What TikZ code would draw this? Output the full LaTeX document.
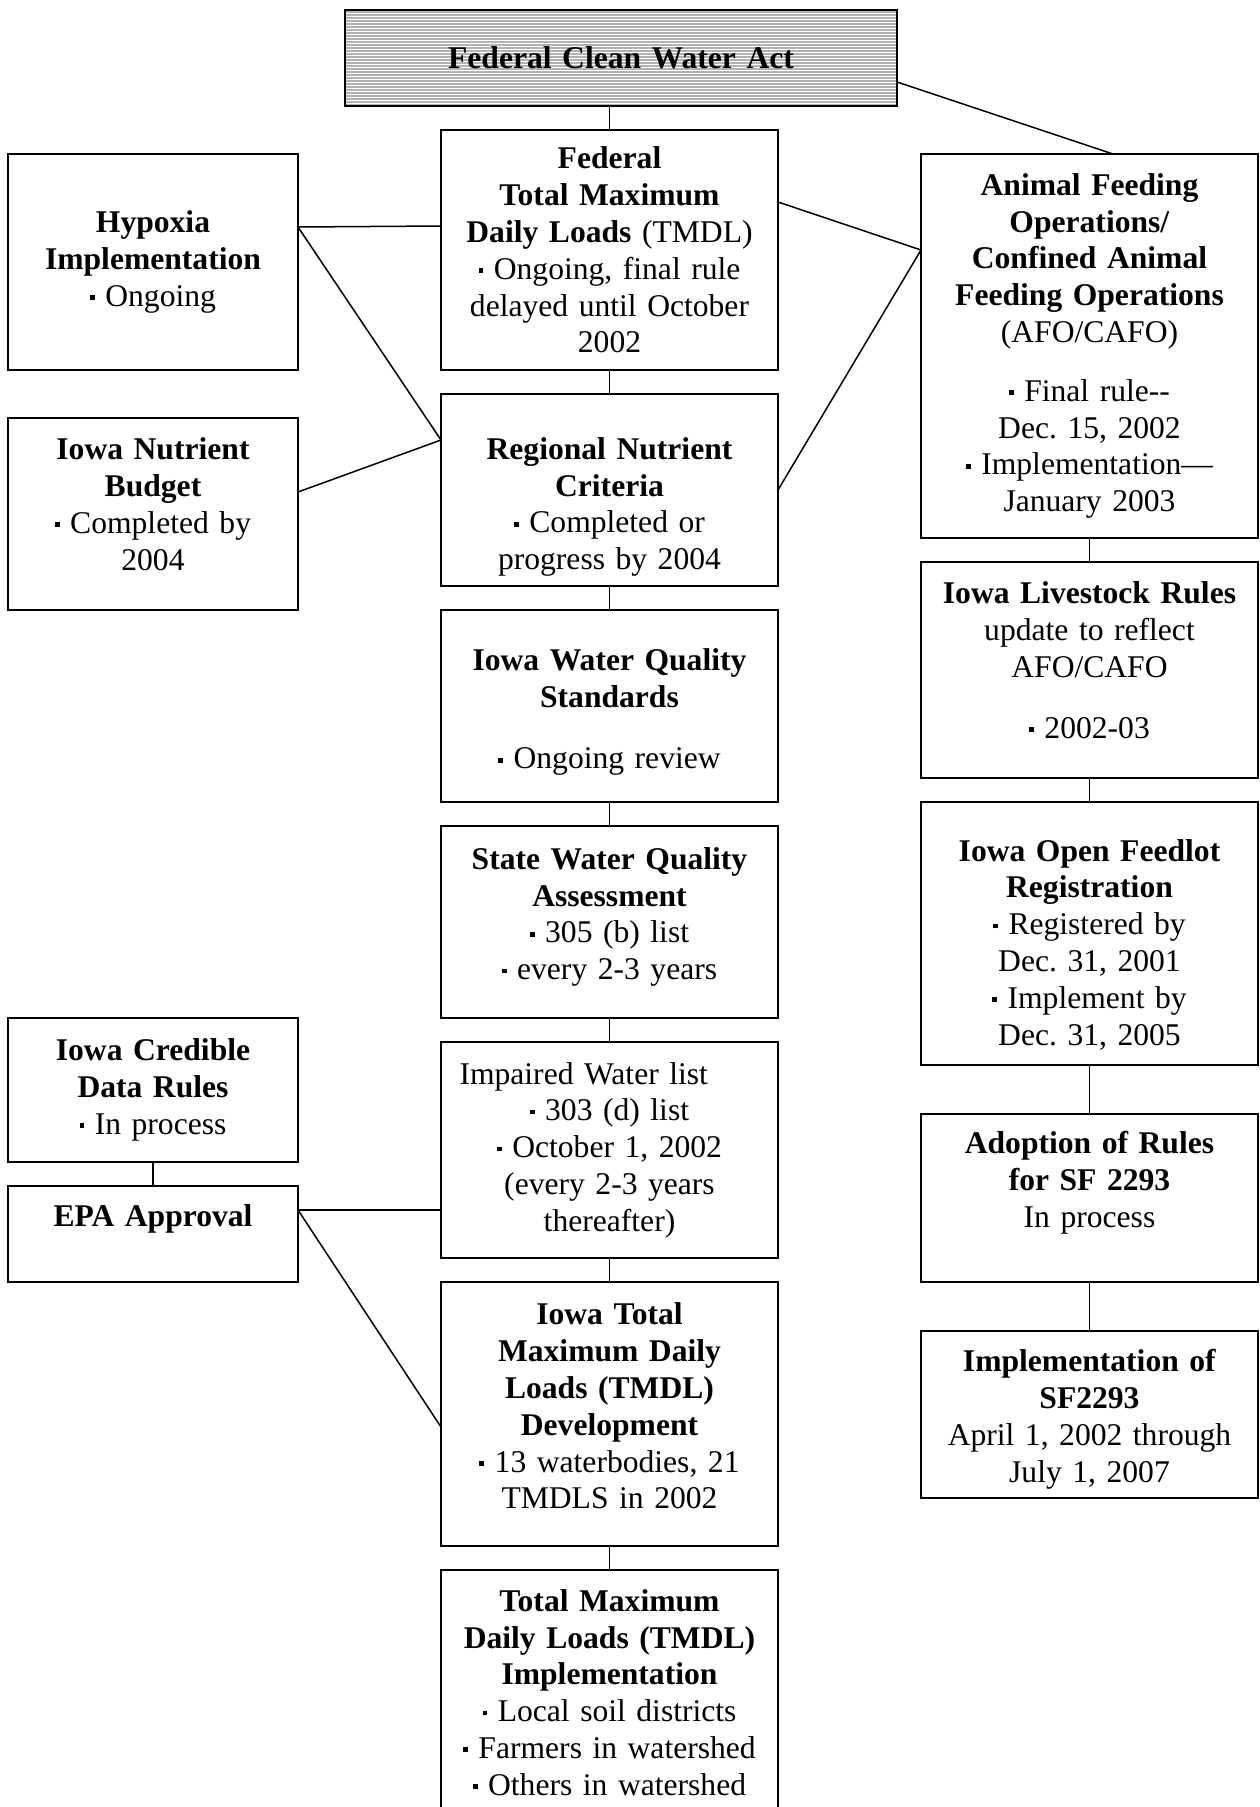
\documentclass[tikz,border=0pt]{standalone}
\usepackage{fontspec}
\setmainfont{Liberation Serif}
\usetikzlibrary{calc}

\frenchspacing
\newcommand{\bdot}{\raisebox{0.2em}{\rule{0.15em}{0.15em}}\ }
\newcommand{\topgap}[1]{\rule{0pt}{#1}}
\newcommand{\botgap}[1]{\rule[-#1]{0pt}{0pt}}

\begin{document}
\begin{tikzpicture}[x=1pt,y=-1pt,
    box/.style={draw,line width=1.8pt,inner sep=0pt,outer sep=0pt,align=center,
      font=\fontsize{31.6}{36.8}\selectfont},
    midbox/.style={box,minimum width=337pt,text width=327pt},
    sidebox/.style={box,minimum width=290pt,text width=282pt},
    stripes/.style={path picture={
      \foreach \k in {2,5,...,95}
        \draw[gray!60,line width=1.3pt] ([yshift=-\k pt]path picture bounding box.north west)
          -- ([yshift=-\k pt]path picture bounding box.north east);}},
    link/.style={line width=1.5pt}]
      \path[use as bounding box,clip] (0,0) rectangle (1259,1807);

      \node[box,stripes,minimum width=552pt,minimum height=96pt,text width=540pt] (cwa) at (621,58)
        {\textbf{Federal Clean Water Act}};

      % middle column
      \node[midbox,minimum height=240pt] (fed) at (609.5,250) {\textbf{Federal}\\ \textbf{Total Maximum}\\
        \textbf{Daily Loads} (TMDL)\\ \bdot Ongoing, final rule\\ delayed until October\\ 2002};
      \node[midbox,minimum height=192pt] (reg) at (609.5,490) {\topgap{56pt}\textbf{Regional Nutrient}\\ \textbf{Criteria}\\
        \bdot Completed or\\ progress by 2004};
      \node[midbox,minimum height=192pt] (wqs) at (609.5,706) {\topgap{34pt}\textbf{Iowa Water Quality}\\ \textbf{Standards}\\[25pt]
        \bdot Ongoing review};
      \node[midbox,minimum height=192pt] (swqa) at (609.5,922) {\textbf{State Water Quality}\\ \textbf{Assessment}\\
        \bdot 305 (b) list\\ \bdot every 2-3 years\botgap{17pt}};
      \node[midbox,minimum height=216pt,text width=300pt] (imp) at (609.5,1150) {\makebox[300pt][l]{Impaired Water list}\\
        \bdot 303 (d) list\\ \bdot October 1, 2002\\ (every 2-3 years\\ thereafter)};
      \node[midbox,minimum height=264pt] (dev) at (609.5,1414) {\textbf{Iowa Total}\\ \textbf{Maximum Daily}\\
        \textbf{Loads (TMDL)}\\ \textbf{Development}\\ \bdot 13 waterbodies, 21\\ TMDLS in 2002\botgap{16pt}};
      \node[midbox,minimum height=245pt] (tmi) at (609.5,1692.5) {\textbf{Total Maximum}\\ \textbf{Daily Loads (TMDL)}\\
        \textbf{Implementation}\\ \bdot Local soil districts\\ \bdot Farmers in watershed\\ \bdot Others in watershed};

      % left column
      \node[sidebox,minimum height=216pt] (hyp) at (153,262) {\textbf{Hypoxia}\\ \textbf{Implementation}\\ \bdot Ongoing};
      \node[sidebox,minimum height=192pt] (nut) at (153,514) {\textbf{Iowa Nutrient}\\ \textbf{Budget}\\
        \bdot Completed by\\ 2004\botgap{20pt}};
      \node[sidebox,minimum height=144pt] (cred) at (153,1090) {\textbf{Iowa Credible}\\ \textbf{Data Rules}\\
        \bdot In process};
      \node[sidebox,minimum height=96pt] (epa) at (153,1234) {\textbf{EPA Approval}\\ \mbox{}};

      % right column
      \node[midbox,minimum height=384pt] (afo) at (1089.5,346) {\textbf{Animal Feeding}\\ \textbf{Operations/}\\
        \textbf{Confined Animal}\\ \textbf{Feeding Operations}\\ (AFO/CAFO)\\[22pt]
        \bdot Final rule{-}{-}\\ Dec. 15, 2002\\ \bdot Implementation—\\ January 2003};
      \node[midbox,minimum height=216pt] (live) at (1089.5,670) {\textbf{Iowa Livestock Rules}\\ update to reflect\\
        AFO/CAFO\\[24pt] \bdot 2002-03\botgap{20pt}};
      \node[midbox,minimum height=263pt] (feed) at (1089.5,933.5) {\topgap{44pt}\textbf{Iowa Open Feedlot}\\ \textbf{Registration}\\
        \bdot Registered by\\ Dec. 31, 2001\\ \bdot Implement by\\ Dec. 31, 2005};
      \node[midbox,minimum height=168pt] (adopt) at (1089.5,1198) {\textbf{Adoption of Rules}\\ \textbf{for SF 2293}\\
        In process\\ \mbox{}};
      \node[midbox,minimum height=167pt] (sf) at (1089.5,1414.5) {\topgap{32pt}\textbf{Implementation of}\\ \textbf{SF2293}\\
        April 1, 2002 through\\ July 1, 2007};

      \draw[link] (fed.north) -- (fed.north |- cwa.south);
      \draw[link] ($(cwa.east)+(0,24)$) -- ($(afo.north)+(23.5,0)$);
      \draw[link] (fed.south) -- (reg.north);
      \draw[link] (reg.south) -- (wqs.north);
      \draw[link] (wqs.south) -- (swqa.north);
      \draw[link] (swqa.south) -- (imp.north);
      \draw[link] (imp.south) -- (dev.north);
      \draw[link] (dev.south) -- (tmi.north);

      \draw[link] ($(hyp.east)+(0,-35)$) coordinate (hype) -- ($(fed.west)+(0,-24)$);
      \draw[link] (hype) -- ($(reg.west)+(0,-50)$) coordinate (regw);
      \draw[link] ($(nut.east)+(0,-22)$) -- (regw);
      \draw[link] ($(fed.east)+(0,-48)$) -- ($(afo.west)+(0,-96)$) coordinate (afow);
      \draw[link] (reg.east) -- (afow);

      \draw[link] (afo.south) -- (live.north);
      \draw[link] (live.south) -- (feed.north);
      \draw[link] (feed.south) -- (adopt.north);
      \draw[link] (adopt.south) -- (sf.north);

      \draw[link] (cred.south) -- (epa.north);
      \draw[link] ($(epa.east)+(0,-24)$) coordinate (epae) -- ($(imp.west)+(0,60)$);
      \draw[link] (epae) -- ($(dev.west)+(0,13)$);
    \end{tikzpicture}
\end{document}
